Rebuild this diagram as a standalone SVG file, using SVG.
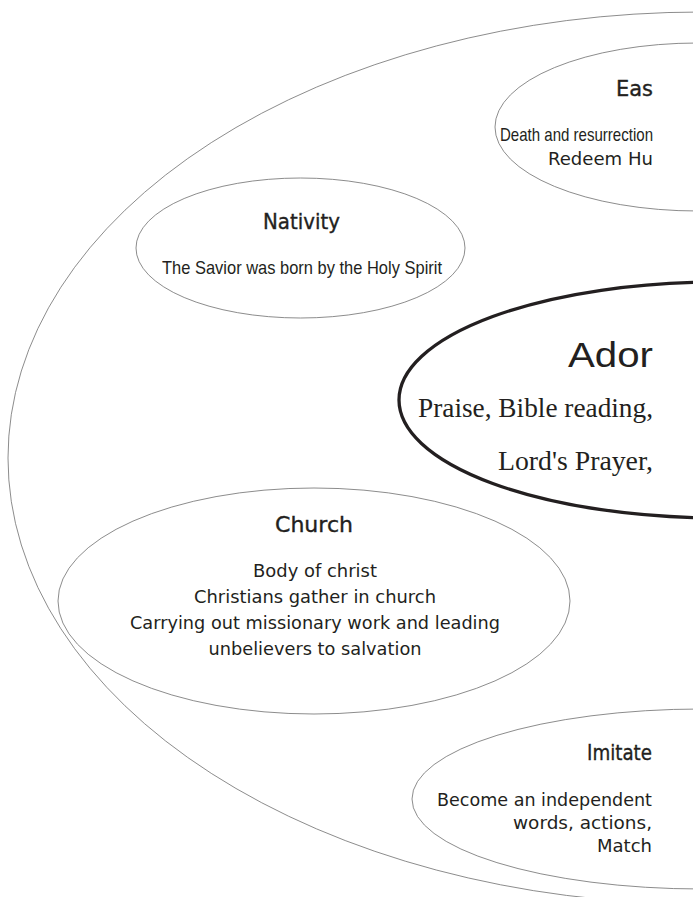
<svg xmlns="http://www.w3.org/2000/svg" width="693" height="897" viewBox="0 0 693 897">
<style>
.thin{fill:none;stroke:#6e6e6e;stroke-width:0.8}
.thick{fill:none;stroke:#231f20;stroke-width:3.3}
.title{font-family:"DejaVu Sans","Liberation Sans",sans-serif;font-size:20.5px;fill:#231f20;stroke:#231f20;stroke-width:0.35}
.body{font-family:"DejaVu Sans","Liberation Sans",sans-serif;font-size:17.6px;fill:#231f20}
.narrow{font-family:"Liberation Sans","DejaVu Sans",sans-serif;font-size:19px;fill:#231f20}
.serif{font-family:"Liberation Serif","DejaVu Serif",serif;font-size:27px;fill:#231f20}
.big{font-family:"Liberation Sans","DejaVu Sans",sans-serif;font-size:35px;fill:#231f20}
</style>
<rect width="693" height="897" fill="#ffffff"/>
<g id="outer">
<ellipse class="thin" cx="702" cy="458" rx="694" ry="446"/>
</g>
<g id="easter">
<ellipse class="thin" cx="698" cy="127" rx="203" ry="84"/>
<text class="title" x="653" y="96" text-anchor="end" textLength="37" lengthAdjust="spacingAndGlyphs">Eas</text>
<text class="narrow" x="653" y="141" text-anchor="end" font-size="18" textLength="153" lengthAdjust="spacingAndGlyphs">Death and resurrection</text>
<text class="body" x="653" y="165" text-anchor="end" textLength="105" lengthAdjust="spacingAndGlyphs">Redeem Hu</text>
</g>
<g id="nativity">
<ellipse class="thin" cx="300.5" cy="248" rx="164.5" ry="70"/>
<text class="title" x="301.5" y="229" text-anchor="middle" textLength="77" lengthAdjust="spacingAndGlyphs">Nativity</text>
<text class="narrow" x="302" y="274" text-anchor="middle" textLength="280" lengthAdjust="spacingAndGlyphs">The Savior was born by the Holy Spirit</text>
</g>
<g id="adoration">
<ellipse class="thick" cx="719" cy="400" rx="320" ry="118"/>
<text class="big" x="653" y="367" text-anchor="end" textLength="85" lengthAdjust="spacingAndGlyphs">Ador</text>
<text class="serif" x="653" y="417" text-anchor="end" textLength="235" lengthAdjust="spacingAndGlyphs">Praise, Bible reading,</text>
<text class="serif" x="653" y="470" text-anchor="end" textLength="155" lengthAdjust="spacingAndGlyphs">Lord's Prayer,</text>
</g>
<g id="church">
<ellipse class="thin" cx="314" cy="601" rx="256" ry="113"/>
<text class="title" x="314" y="532" text-anchor="middle" textLength="78" lengthAdjust="spacingAndGlyphs">Church</text>
<text class="body" x="315" y="577" text-anchor="middle" textLength="124" lengthAdjust="spacingAndGlyphs">Body of christ</text>
<text class="body" x="315" y="603" text-anchor="middle" textLength="242" lengthAdjust="spacingAndGlyphs">Christians gather in church</text>
<text class="body" x="315" y="629" text-anchor="middle" textLength="370" lengthAdjust="spacingAndGlyphs">Carrying out missionary work and leading</text>
<text class="body" x="315" y="655" text-anchor="middle" textLength="213" lengthAdjust="spacingAndGlyphs">unbelievers to salvation</text>
</g>
<g id="imitate">
<ellipse class="thin" cx="702" cy="799" rx="290" ry="90"/>
<text class="title" x="652" y="760" text-anchor="end" textLength="65" lengthAdjust="spacingAndGlyphs">Imitate</text>
<text class="body" x="652" y="806" text-anchor="end" textLength="215" lengthAdjust="spacingAndGlyphs">Become an independent</text>
<text class="body" x="652" y="829" text-anchor="end" textLength="139" lengthAdjust="spacingAndGlyphs">words, actions,</text>
<text class="body" x="652" y="852" text-anchor="end" textLength="55" lengthAdjust="spacingAndGlyphs">Match</text>
</g>
<g id="connectors"></g>
</svg>
